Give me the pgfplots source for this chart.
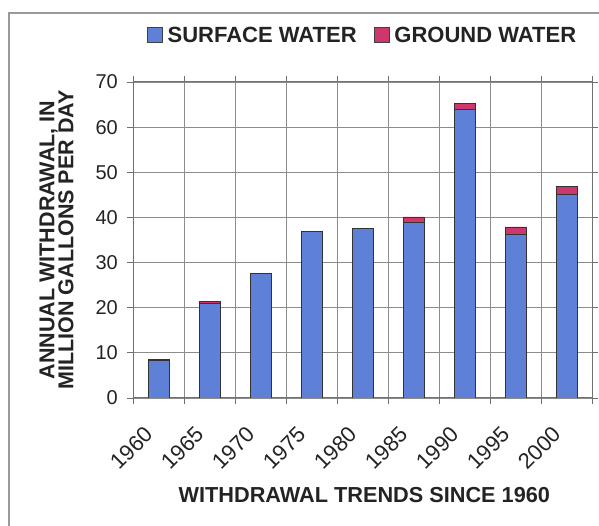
\documentclass[border=0pt]{standalone}
\usepackage{pgfplots}
\pgfplotsset{compat=1.18}
\usepackage{fontspec}
\setmainfont{Liberation Sans}
\definecolor{surf}{RGB}{94,128,214}
\definecolor{grnd}{RGB}{205,55,110}
\definecolor{txt}{RGB}{35,35,35}
\definecolor{gridc}{RGB}{140,140,140}
\begin{document}
\begin{tikzpicture}
\useasboundingbox (0pt,0pt) rectangle (599pt,526pt);
\draw[color=gray!80, line width=1.4pt] (9pt,0pt) -- (9pt,513pt) -- (599pt,513pt);
\begin{axis}[
  at={(133pt,128pt)}, anchor=south west,
  scale only axis, width=459pt, height=316pt,
  ybar stacked, bar width=21pt,
  xmin=-0.5, xmax=8.5, ymin=0, ymax=70,
  ytick={0,10,...,70},
  xtick={-0.5,0.5,...,8.5}, xticklabels={},
  extra x ticks={0,1,...,8},
  extra x tick labels={1960,1965,1970,1975,1980,1985,1990,1995,2000},
  extra x tick style={major tick length=0pt, grid=none,
     xticklabel style={font=\fontsize{22}{22}\selectfont, xshift=-15pt, yshift=-27pt, rotate=45, anchor=north east, inner sep=0pt}},
  tick align=outside, major tick length=6pt,
  xmajorgrids, ymajorgrids,
  grid style={gridc, line width=0.8pt},
  axis line style={gridc!80!black, line width=1pt},
  tick style={gridc!80!black, line width=0.8pt},
  /pgf/number format/assume math mode=true,
  tick label style={font=\fontsize{20}{20}\selectfont, text=txt},
  yticklabel style={inner sep=0pt, xshift=-9pt},
  xlabel={\bfseries WITHDRAWAL TRENDS SINCE 1960},
  xlabel style={at={(axis description cs:0.504,-0.307)}, anchor=center, font=\fontsize{21.7}{22}\selectfont, text=txt},
  ylabel={\bfseries ANNUAL WITHDRAWAL, IN\\\bfseries MILLION GALLONS PER DAY},
  ylabel style={at={(axis description cs:-0.1667,0.5)}, anchor=center, align=center, font=\fontsize{21.5}{19}\selectfont, text=txt},
  legend columns=2,
  legend style={at={(axis description cs:0.5,1.148)}, anchor=center, draw=none, fill=none,
     font=\fontsize{22}{22}\selectfont\bfseries, text=txt,
     /tikz/every odd column/.append style={column sep=3pt},
     /tikz/every even column/.append style={column sep=15pt}},
  legend image code/.code={\draw[#1, draw=black!75, line width=0.8pt] (0pt,-7pt) rectangle (15pt,8pt);},
]
\addplot[fill=surf, draw=black!80, line width=0.8pt] coordinates {
  (0,8.3) (1,20.9) (2,27.6) (3,36.9) (4,37.6) (5,39.0) (6,63.9) (7,36.3) (8,45.1)};
\addplot[fill=grnd, draw=black!80, line width=0.8pt] coordinates {
  (0,0.25) (1,0.5) (2,0) (3,0) (4,0) (5,1.1) (6,1.4) (7,1.6) (8,1.8)};
\legend{SURFACE WATER, GROUND WATER}
\end{axis}
\end{tikzpicture}
\end{document}
